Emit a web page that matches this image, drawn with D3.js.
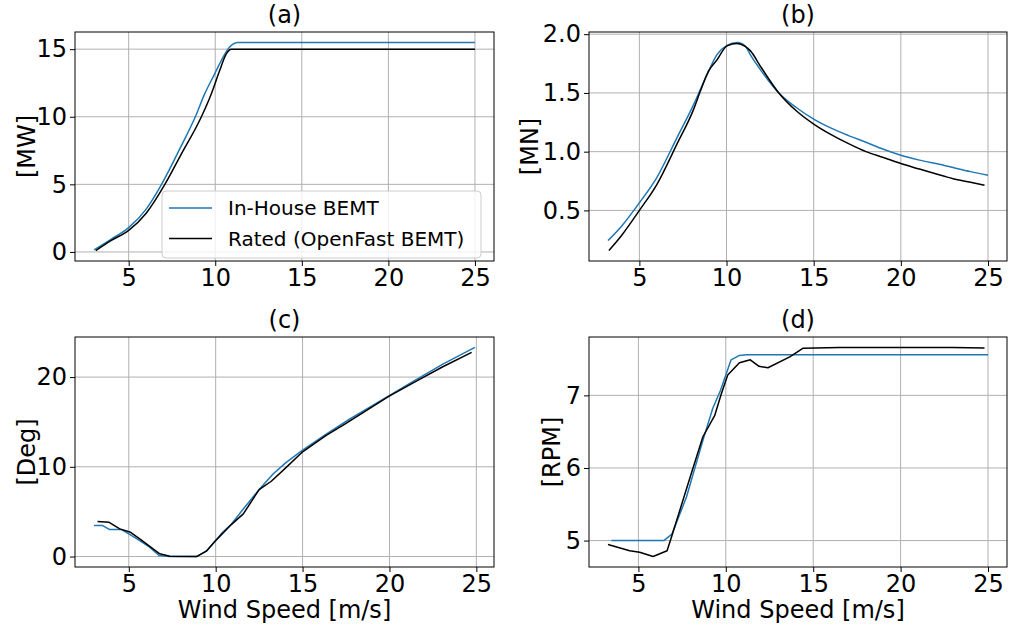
<!DOCTYPE html>
<html>
<head>
<meta charset="utf-8">
<script src="https://cdn.jsdelivr.net/npm/d3@7"></script>
<style>
	body { margin: 0; background: #fff; }
	svg text { font-family: "DejaVu Sans", sans-serif; fill: #000; }
</style>
</head>
<body>
<div id="chartDIV"></div>
<script>
// [wind speed, value] pairs
const powerInHouse = [[3,0.15],[4,0.95],[5,1.8],[6,3.15],[6.9,5.0],[8,7.75],[8.85,10.0],[9.39,11.69],[9.96,13.16],[10.44,14.38],[10.73,15.0],[11,15.35],[11.3,15.5],[12,15.5],[25,15.5]];
const powerRated = [[3.1,0.1],[4,0.85],[5,1.6],[6,2.85],[7.09,5.0],[8,7.15],[9.2,10.0],[9.77,11.69],[10.25,13.4],[10.63,14.63],[10.92,15.0],[11.5,15],[25,15]];

const thrustInHouse = [[3.2,0.243],[4,0.37],[5,0.565],[6,0.78],[7.16,1.12],[8.11,1.4],[8.59,1.56],[8.97,1.685],[9.45,1.826],[10.03,1.905],[10.63,1.93],[11.07,1.9],[11.36,1.826],[12,1.686],[13,1.5],[14,1.376],[15,1.277],[16,1.2],[17,1.137],[18,1.08],[19,1.02],[20,0.969],[21,0.93],[22.5,0.883],[23,0.865],[24,0.83],[25,0.8]];
const thrustRated = [[3.25,0.158],[4,0.291],[5,0.5],[6,0.72],[7.16,1.066],[8.11,1.36],[8.5,1.516],[8.97,1.685],[9.45,1.78],[10.03,1.9],[10.6,1.92],[11.07,1.896],[11.36,1.86],[12,1.714],[13,1.5],[14,1.348],[15,1.235],[16,1.145],[17,1.068],[18,1.0],[19,0.95],[20,0.899],[21,0.855],[22.5,0.79],[23,0.77],[24,0.74],[24.8,0.714]];

const pitchInHouse = [[3,3.45],[3.5,3.45],[3.9,3.0],[4.58,3.0],[5,2.52],[5.63,1.78],[6.2,1.04],[6.74,0.11],[7.36,0],[8.9,0],[9.46,0.6],[10,1.78],[10.4,2.7],[10.9,3.6],[11.67,5.5],[12.53,7.53],[13.3,9.2],[14.06,10.5],[14.96,11.8],[16.36,13.65],[17.7,15.3],[19.96,17.9],[21.34,19.5],[23.07,21.45],[24.92,23.3]];
const pitchRated = [[3.2,3.9],[3.87,3.82],[4.48,3.08],[5.1,2.7],[5.63,1.97],[6.78,0.3],[7.36,0.04],[8.9,0],[9.46,0.6],[10.04,1.86],[10.9,3.56],[11.59,4.75],[12.5,7.46],[13.2,8.39],[14.06,9.94],[14.96,11.6],[16.36,13.5],[17.5,14.84],[19.96,17.85],[21.6,19.6],[23.07,21.15],[24.73,22.75]];

const rpmInHouse = [[3.45,5.0],[6.45,5.0],[6.92,5.09],[7.75,5.6],[8.69,6.38],[9.25,6.82],[9.7,7.07],[10.3,7.49],[10.78,7.55],[11.2,7.56],[25,7.56]];
const rpmRated = [[3.26,4.945],[4.5,4.86],[5.07,4.84],[5.84,4.78],[6.64,4.86],[6.92,5.07],[8.11,5.99],[8.69,6.43],[9.36,6.72],[9.74,7.02],[10.11,7.28],[10.78,7.45],[11.4,7.49],[11.9,7.4],[12.41,7.38],[13.66,7.53],[14.23,7.62],[14.42,7.65],[16.5,7.66],[23,7.66],[24.8,7.653]];

const xTicks = [5, 10, 15, 20, 25];
const panels = [
	{ title: "(a)", ylabel: "[MW]", yTicks: [0, 5, 10, 15], fmt: d3.format("d"), a: powerInHouse, b: powerRated, box: [75, 32, 494, 261], labelX: 27, xlabel: false, legend: true, smooth: true },
	{ title: "(b)", ylabel: "[MN]", yTicks: [0.5, 1.0, 1.5, 2.0], fmt: d3.format(".1f"), a: thrustInHouse, b: thrustRated, box: [589, 32, 1007, 261], labelX: 530, xlabel: false, smooth: true },
	{ title: "(c)", ylabel: "[Deg]", yTicks: [0, 10, 20], fmt: d3.format("d"), a: pitchInHouse, b: pitchRated, box: [75, 337, 494, 567], labelX: 27, xlabel: true, smooth: false },
	{ title: "(d)", ylabel: "[RPM]", yTicks: [5, 6, 7], fmt: d3.format("d"), a: rpmInHouse, b: rpmRated, box: [589, 337, 1007, 567], labelX: 552, xlabel: true, smooth: false }
];
const seriesNames = ["In-House BEMT", "Rated (OpenFast BEMT)"];
const seriesColors = ["#1f77b4", "#000000"];

const svg = d3.select("#chartDIV")
	.append("svg")
	.attr("width", 1011)
	.attr("height", 626);

// matplotlib style 5% margins
function padded(ext) {
	const m = (ext[1] - ext[0]) * 0.05;
	return [ext[0] - m, ext[1] + m];
}

panels.forEach((p) => {
	const [x0, y0, x1, y1] = p.box;
	const all = p.a.concat(p.b);
	const xScale = d3.scaleLinear().domain(padded(d3.extent(all, (d) => d[0]))).range([x0, x1]);
	const yScale = d3.scaleLinear().domain(padded(d3.extent(all, (d) => d[1]))).range([y1, y0]);

	const g = svg.append("g");

	// grid
	g.append("g")
		.selectAll("line")
		.data(xTicks)
		.enter()
		.append("line")
		.attr("x1", (d) => xScale(d)).attr("x2", (d) => xScale(d))
		.attr("y1", y0).attr("y2", y1)
		.attr("stroke", "#b0b0b0").attr("stroke-width", 1);
	g.append("g")
		.selectAll("line")
		.data(p.yTicks)
		.enter()
		.append("line")
		.attr("x1", x0).attr("x2", x1)
		.attr("y1", (d) => yScale(d)).attr("y2", (d) => yScale(d))
		.attr("stroke", "#b0b0b0").attr("stroke-width", 1);

	// lines (power and thrust come out smooth in the source, pitch and rpm are polylines)
	const line = d3.line()
		.x((d) => xScale(d[0]))
		.y((d) => yScale(d[1]))
		.curve(p.smooth ? d3.curveMonotoneX : d3.curveLinear);
	[p.a, p.b].forEach((s, i) => {
		g.append("path")
			.datum(s)
			.attr("d", line)
			.attr("fill", "none")
			.attr("stroke", seriesColors[i])
			.attr("stroke-width", 1.5)
			.attr("stroke-linejoin", "round");
	});

	// axes
	const xAxis = d3.axisBottom(xScale).tickValues(xTicks).tickSize(5).tickPadding(3);
	const yAxis = d3.axisLeft(yScale).tickValues(p.yTicks).tickFormat(p.fmt).tickSize(5).tickPadding(3);
	const gx = g.append("g").attr("transform", `translate(0, ${y1})`).call(xAxis);
	const gy = g.append("g").attr("transform", `translate(${x0}, 0)`).call(yAxis);
	[gx, gy].forEach((ax) => {
		ax.select(".domain").remove();
		ax.selectAll("text").style("font-size", "24px").attr("fill", "#000");
		ax.selectAll("line").attr("stroke", "#000");
	});

	// frame
	g.append("rect")
		.attr("x", x0).attr("y", y0)
		.attr("width", x1 - x0).attr("height", y1 - y0)
		.attr("fill", "none").attr("stroke", "#000").attr("stroke-width", 1);

	g.append("text")
		.attr("x", (x0 + x1) / 2).attr("y", y0 - 9)
		.attr("text-anchor", "middle")
		.style("font-size", "24px")
		.text(p.title);

	g.append("text")
		.attr("transform", `translate(${p.labelX}, ${(y0 + y1) / 2}) rotate(-90)`)
		.attr("text-anchor", "middle")
		.attr("dy", "0.35em")
		.style("font-size", "24px")
		.text(p.ylabel);

	if (p.xlabel) {
		g.append("text")
			.attr("x", (x0 + x1) / 2).attr("y", 618)
			.attr("text-anchor", "middle")
			.style("font-size", "24px")
			.text("Wind Speed [m/s]");
	}

	if (p.legend) {
		const lg = g.append("g");
		lg.append("rect")
			.attr("x", 162).attr("y", 191)
			.attr("width", 319).attr("height", 67)
			.attr("rx", 4)
			.attr("fill", "#fff").attr("fill-opacity", 0.8)
			.attr("stroke", "#cccccc").attr("stroke-width", 1);
		seriesNames.forEach((name, i) => {
			const yy = 208 + i * 30.5;
			lg.append("line")
				.attr("x1", 169).attr("x2", 212)
				.attr("y1", yy).attr("y2", yy)
				.attr("stroke", seriesColors[i]).attr("stroke-width", 1.5);
			lg.append("text")
				.attr("x", 228).attr("y", yy)
				.attr("dy", "0.35em")
				.style("font-size", "20px")
				.text(name);
		});
	}
});
</script>
</body>
</html>
